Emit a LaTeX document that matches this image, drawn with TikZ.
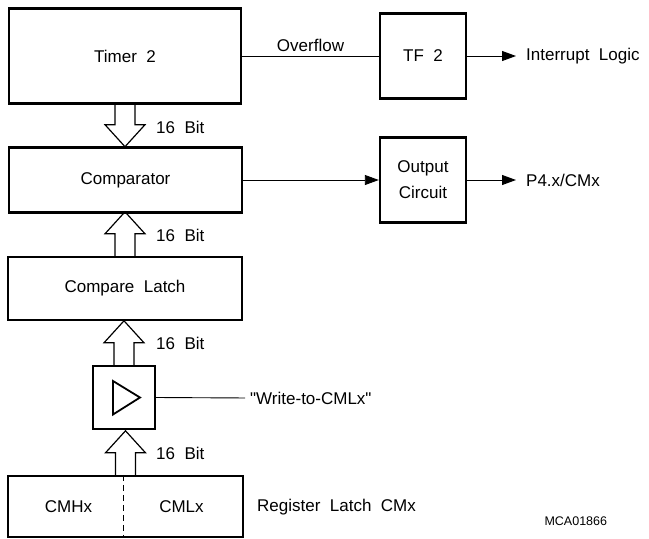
\documentclass[tikz,border=0pt]{standalone}
\usepackage{fontspec}
\setmainfont{Liberation Sans}
\usetikzlibrary{arrows.meta}

\begin{document}
\begin{tikzpicture}[x=1pt,y=-1pt,
    blk/.style={draw, line width=2.4pt, inner sep=0pt, align=center},
    bus/.style={line width=1.2pt, line join=miter},
    sig/.style={line width=0.9pt},
    lbl/.style={font=\fontsize{17}{26}\selectfont, inner sep=1pt},
    tip/.style={-{Triangle[length=14pt,width=10pt]}, shorten >=9pt}]
    \useasboundingbox (0,0) rectangle (649,539);

    % left column
    \node[blk, lbl, minimum width=232pt, minimum height=95pt] (timer) at (125,56) {Timer~~2};
    \node[blk, lbl, minimum width=233pt, minimum height=65pt] (comp) at (125.5,180) {Comparator};
    \node[blk, lbl, minimum width=234pt, minimum height=63pt] (latch) at (125,288.5) {Compare~~Latch};
    \node[blk, minimum width=62pt, minimum height=63pt] (buf) at (124,397.5) {};
    \node[blk, minimum width=235pt, minimum height=61pt] (reg) at (125.5,506.5) {};

    % right column
    \node[blk, lbl, minimum width=86pt, minimum height=85pt] (tf) at (423,56) {TF~~2};
    \node[blk, lbl, minimum width=86pt, minimum height=85pt] (outc) at (423,180) {Output\\Circuit};

    % texts
    \node[lbl, anchor=west] (intr) at (525,56) {Interrupt~~Logic};
    \node[lbl, anchor=west] (port) at (525,180) {P4.x/CMx};
    \node[lbl, anchor=west] (wr) at (249,398) {\textquotedbl Write-to-CMLx\textquotedbl};
    \node[lbl, anchor=west] (reglbl) at (256,507) {Register~~Latch~~CMx};
    \node[lbl] (cmh) at ([xshift=-57pt]reg.center) {CMHx};
    \node[lbl] (cml) at ([xshift=56pt]reg.center) {CMLx};
    \node[font=\fontsize{12.5}{15}\selectfont, anchor=west] (code) at (541,521) {MCA01866};

    \node[lbl, anchor=west] (b1) at (155,127) {16~~Bit};
    \node[lbl, anchor=west] (b2) at (155,235) {16~~Bit};
    \node[lbl, anchor=west] (b3) at (155,343) {16~~Bit};
    \node[lbl, anchor=west] (b4) at (155,453) {16~~Bit};

    % connectors
    \draw[sig] (timer.east) -- node[lbl, above=3pt] {Overflow} (tf.west);
    \draw[sig, tip] (tf.east) -- (intr.west);
    \draw[sig, -{Triangle[length=14pt,width=10pt]}] (comp.east) -- (outc.west);
    \draw[sig, tip] (outc.east) -- (port.west);
    \draw[sig, shorten >=4pt] (buf.east) -- (wr.west);
    \draw[sig, dashed, dash pattern=on 6pt off 4pt] ([xshift=-2pt]reg.north) -- ([xshift=-2pt]reg.south);

    % buffer triangle
    \draw[line width=1.8pt, line join=miter] ([shift={(-11,-16.5)}]buf.center) -- ([shift={(16,0)}]buf.center) -- ([shift={(-11,17)}]buf.center) -- cycle;

    % 16 bit buses
    \draw[bus] (timer.south) ++(-10,0) -- ++(0,20) -- ++(-10,0) -- ++(20,22) -- ++(20,-22) -- ++(-10,0) -- ++(0,-20);
    \foreach \a in {latch,buf,reg}
        \draw[bus] (\a.north) ++(-10,0) -- ++(0,-22) -- ++(-10,0) -- ++(20,-22) -- ++(20,22) -- ++(-10,0) -- ++(0,22);
\end{tikzpicture}
\end{document}
